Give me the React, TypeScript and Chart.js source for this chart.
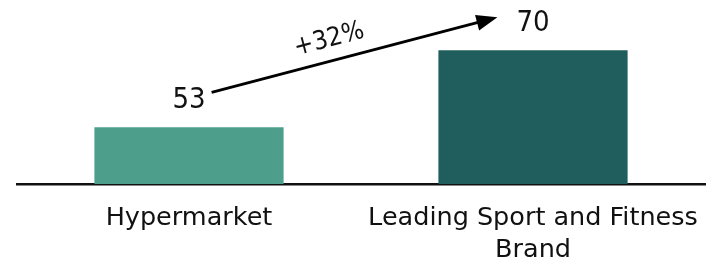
import React, { useEffect, useRef } from "react";
import { Chart, registerables } from "chart.js";

Chart.register(...registerables);

const categories: (string | string[])[] = ["Hypermarket", ["Leading Sport and Fitness", "Brand"]];
const values: number[] = [53, 70];
const barColors: string[] = ["#4D9F8B", "#1F5E5C"];
const growthLabel = "+32%";

const FONT_NUM = "'DejaVu Sans Condensed', 'DejaVu Sans', sans-serif";
const FONT_LBL = "'DejaVu Sans', sans-serif";

const annotatePlugin = {
  id: "annotate",
  afterDatasetsDraw(chart: any) {
    const ctx = chart.ctx as CanvasRenderingContext2D;
    const meta = chart.getDatasetMeta(0);
    const pts: { x: number; y: number; w: number }[] = [];
    ctx.save();
    ctx.font = `29px ${FONT_NUM}`;
    ctx.fillStyle = "#111";
    ctx.textAlign = "center";
    ctx.textBaseline = "alphabetic";
    meta.data.forEach((bar: any, i: number) => {
      const txt = String(values[i]);
      const baseY = bar.y - 19;
      ctx.fillText(txt, bar.x, baseY);
      const w = ctx.measureText(txt).width;
      pts.push({ x: bar.x, y: baseY - 16, w });
    });
    if (pts.length === 2) {
      const x0 = pts[0].x + pts[0].w / 2 + 6;
      const y0 = pts[0].y;
      const x1 = pts[1].x - pts[1].w / 2 - 19;
      const y1 = pts[1].y + 2;
      const ang = Math.atan2(y1 - y0, x1 - x0);
      const head = 21;
      const hw = 8;
      ctx.strokeStyle = "#000";
      ctx.fillStyle = "#000";
      ctx.lineWidth = 2.8;
      const lx = x1 - Math.cos(ang) * (head - 2);
      const ly = y1 - Math.sin(ang) * (head - 2);
      ctx.beginPath();
      ctx.moveTo(x0, y0);
      ctx.lineTo(lx, ly);
      ctx.stroke();
      const bx = x1 - Math.cos(ang) * head;
      const by = y1 - Math.sin(ang) * head;
      ctx.beginPath();
      ctx.moveTo(x1, y1);
      ctx.lineTo(bx + Math.sin(ang) * hw, by - Math.cos(ang) * hw);
      ctx.lineTo(bx - Math.sin(ang) * hw, by + Math.cos(ang) * hw);
      ctx.closePath();
      ctx.fill();
      const t = 0.43;
      const mx = x0 + (x1 - x0) * t;
      const my = y0 + (y1 - y0) * t;
      const off = 21;
      const tx = mx + Math.sin(ang) * off;
      const ty = my - Math.cos(ang) * off;
      ctx.translate(tx, ty);
      ctx.rotate(ang);
      ctx.font = `26px ${FONT_NUM}`;
      ctx.fillStyle = "#111";
      ctx.textAlign = "center";
      ctx.textBaseline = "middle";
      ctx.fillText(growthLabel, 0, 0);
    }
    ctx.restore();
  },
};

export default function App() {
  const ref = useRef<HTMLCanvasElement | null>(null);
  useEffect(() => {
    if (!ref.current) return;
    const chart = new Chart(ref.current, {
      type: "bar",
      data: {
        labels: categories,
        datasets: [
          {
            data: values,
            backgroundColor: barColors,
            borderWidth: 0,
            barPercentage: 0.55,
            categoryPercentage: 1,
          },
        ],
      },
      options: {
        animation: false,
        responsive: false,
        maintainAspectRatio: false,
        layout: { padding: { left: 17, right: 10, top: 5, bottom: 0 } },
        plugins: { legend: { display: false }, tooltip: { enabled: false } },
        scales: {
          y: { display: false, min: 40.5, max: 80 },
          x: {
            grid: { display: false, drawTicks: false },
            border: { display: true, color: "#111", width: 2.5 },
            afterFit: (scale: any) => {
              scale.height = 79;
              scale.paddingLeft = 0;
              scale.paddingRight = 0;
            },
            ticks: {
              color: "#111",
              padding: 18,
              maxRotation: 0,
              autoSkip: false,
              font: { family: FONT_LBL, size: 25.5, lineHeight: 1.27 },
            },
          },
        },
      },
      plugins: [annotatePlugin],
    });
    return () => chart.destroy();
  }, []);
  return (
    <div style={{ position: "fixed", left: 0, top: 0, width: 715, height: 263, background: "#fff" }}>
      <canvas ref={ref} width={715} height={263} style={{ width: 715, height: 263, display: "block" }} />
    </div>
  );
}
